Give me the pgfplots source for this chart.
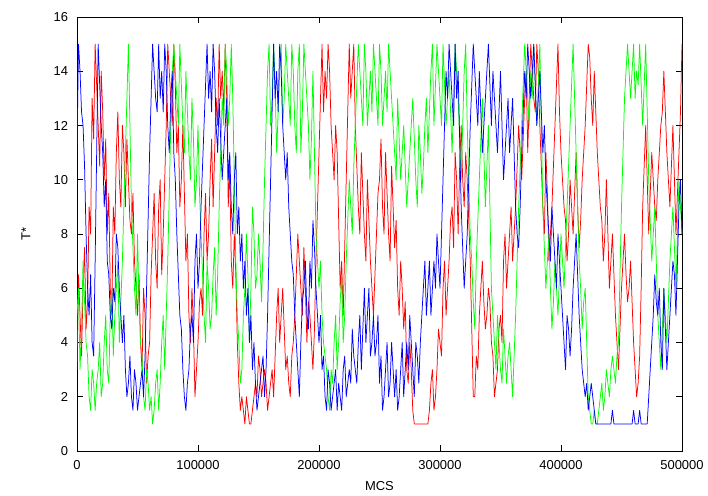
\documentclass[border=0pt]{standalone}
\usepackage{fontspec}
\setmainfont{Liberation Sans}
\usepackage{pgfplots}
\usepackage{pgfplotstable}
\pgfplotsset{compat=1.18}
\pgfplotstableread{
x r g b
0 3 5 11
1250 6.5 6 15
2500 5 3 14
3750 3.5 4.5 12.5
5000 6 7 12
6250 7.5 5.5 10.5
7500 4.5 4 8
8750 5.5 3.5 6
10000 9 2 5
11250 8 1.5 6.5
12500 13 3 4
13750 11.5 2.5 3.5
15000 15 1.5 7
16250 13.5 2.5 11
17500 12 3 15
18750 10.5 4 13.5
20000 14 2 12
21250 12.5 2.5 11
22500 10 4 9
23750 11.5 5 10
25000 8 3 7
26250 9.5 2.5 6.5
27500 6 5 5
28750 5 6 4.5
30000 9 3.5 6
31250 8 5 5.5
32500 11 6 8
33750 12.5 7 7.5
35000 10 4 6
36250 9 5.5 5
37500 12 7 4
38750 11 9 5
40000 9 11 3
41250 11.5 13 2
42500 10 15 2.5
43750 8.5 12 3.5
45000 8 9 2
46250 9.5 7.5 1.5
47500 7 6 3
48750 6 5 2.5
50000 5 8 1.5
51250 6.5 5.5 2
52500 4 4 2.5
53750 3 3.5 3
55000 6 2 2
56250 5 1.5 3.5
57500 2.5 3 6
58750 3.5 2.5 8.5
60000 4 1.5 11
61250 6.5 2 13
62500 8 1 15
63750 9.5 1.5 14
65000 7 2.5 13
66250 6 3 12.5
67500 9 1.5 15
68750 10 2.5 13
70000 6.5 4 14
71250 8 5 12.5
72500 10 3 15
73750 12 5 14
75000 15 7 12
76250 14 9.5 11
77500 13 12 13
78750 12 14 14
80000 15 15 11
81250 13.5 14 10
82500 11 13 8
83750 12 12 6.5
85000 9 15 5
86250 10 13.5 4.5
87500 12 12 3
88750 9.5 11 2
90000 7 14 1.5
91250 8 12.5 2.5
92500 5 11 3
93750 4 10 4.5
95000 6 13 5
96250 4.5 11.5 4
97500 2 9 7
98750 3 10 8
100000 4 12 6
101250 5.5 9.5 7
102500 6 8 9
103750 5 6.5 10.5
105000 8 5 12
106250 9.5 4 13.5
107500 7 7 15
108750 8 6 13
110000 10 4.5 14
111250 11.5 5 12.5
112500 9 6.5 15
113750 11 7.5 14
115000 13 5 12
116250 12 6.5 11
117500 15 9 13
118750 13 11 11.5
120000 14 13 10
121250 12.5 12 11
122500 15 15 12
123750 13 14 13
125000 9 12 10
126250 10.5 13 11
127500 7 15 9
128750 6 13 8
130000 8 10 10
131250 6.5 7 11
132500 4 5 8
133750 2.5 4 9
135000 1.5 2.5 7
136250 2 3 8
137500 1.5 5 6
138750 1 6 7
140000 2 8 5
141250 1.5 6.5 6
142500 1 4 4
143750 1 6 5
145000 1.5 9 3
146250 2 8 4
147500 2.5 6 2.5
148750 2 6.5 1.5
150000 3.5 8 2
151250 3 7 2.5
152500 2 5.5 3
153750 2.5 7.5 3.5
155000 3 10 2
156250 2.5 12 3
157500 1.5 14 5
158750 2 15 7.5
160000 2.5 12 10
161250 3 13 12.5
162500 2 15 15
163750 3.5 13.5 13
165000 5 11 14
166250 6 12.5 12.5
167500 4 14 15
168750 5 15 14
170000 6 12 12
171250 4.5 13 11
172500 3 15 10
173750 3.5 14 11
175000 2.5 13 9
176250 2 12 8
177500 3.5 15 7
178750 4 14 6.5
180000 5 12 5
181250 6.5 11 4
182500 8 14 3
183750 7 15 2
185000 6 11 4
186250 5 12.5 5.5
187500 7.5 15 6
188750 6 14 7
190000 4 13 5
191250 5.5 12 4.5
192500 5 10 7
193750 4 11.5 6
195000 3 14 8.5
196250 4.5 11 7.5
197500 7 8 6
198750 9 7 5
200000 11 6 4
201250 13 7 5
202500 15 5 3
203750 12.5 4 3.5
205000 14 3.5 2
206250 13 3 1.5
207500 15 2 3
208750 14 1.5 2.5
210000 12 3 1.5
211250 11 2.5 2
212500 10 4 2.5
213750 12 5 3
215000 11 3 1.5
216250 8.5 4 2.5
217500 6 5.5 2
218750 7 6.5 1.5
220000 5 4 3
221250 7.5 5 3.5
222500 10 7 2
223750 12.5 8.5 2.5
225000 15 10 3
226250 13 9 2.5
227500 14 8 4.5
228750 15 10.5 3.5
230000 12 12 3
231250 10.5 13.5 2.5
232500 9 15 4
233750 8 14 5
235000 11 13 3
236250 9.5 12 4.5
237500 8 15 6
238750 7 14 4
240000 10 12 5
241250 8.5 13 6
242500 7 14 3.5
243750 6 12.5 4
245000 5 15 5
246250 6.5 14 3.5
247500 8 13 4
248750 9.5 12 5
250000 10 15 2.5
251250 11.5 14 3.5
252500 9 12 1.5
253750 8 13 2
255000 11 14 3
256250 9.5 12.5 4
257500 8 15 2
258750 7 14 2.5
260000 10.5 13 4
261250 9 12 3
262500 7.5 11 2
263750 8.5 10 3
265000 6 13 1.5
266250 5 11.5 2
267500 7 10 3
268750 6 11 4
270000 4.5 12 2
271250 5.5 10.5 3
272500 3 9 4
273750 2.5 10 3
275000 4 11 5
276250 3 12 4
277500 1.5 13 3
278750 1 11.5 2
280000 1 10 4
281250 1 9 3.5
282500 1 12 2.5
283750 1 11 4
285000 1 9.5 5
286250 1 10.5 6
287500 1 12 7
288750 1 13 5
290000 1 11 6
291250 1.5 12.5 7
292500 2.5 14 5
293750 3 15 6
295000 1.5 12 7
296250 2 13.5 6
297500 3 15 8
298750 4.5 14 7
300000 4 13 6
301250 3.5 12 8
302500 6 15 10
303750 7 13.5 12
305000 5 12 14
306250 6 13 13
307500 7 14 15
308750 8.5 12.5 14
310000 9 11 13
311250 7.5 13 12
312500 11 15 15
313750 10 14 13
315000 8 13 14
316250 10.5 11.5 11.5
317500 12 10 9
318750 10 12 7.5
320000 9 14 6
321250 11 15 7
322500 10 12 8
323750 8.5 10 10
325000 7 8 12
326250 4.5 7 13.5
327500 2 5.5 15
328750 2 4.5 14
330000 3.5 7 13
331250 3 8.5 12
332500 5 10 14
333750 6 11.5 12.5
335000 7 13 11
336250 5.5 11 12
337500 4.5 9 13
338750 5 10.5 14
340000 6 12 15
341250 5.5 9 13.5
342500 4 6 12
343750 3.5 5 14
345000 2 4 13
346250 2.5 3 12
347500 3 5 11
348750 4.5 4 12.5
350000 5 3 14
351250 4 2.5 12
352500 7 4.5 10
353750 8 3.5 11
355000 6 2.5 12
356250 7 3.5 13
357500 8 4 11
358750 9 3 12
360000 7 2 13
361250 8 3.5 11
362500 9 5 9
363750 10.5 7 8
365000 12 9 7.5
366250 11 10.5 9
367500 10 12 11
368750 11.5 13.5 12.5
370000 13 15 14
371250 14 14 13
372500 11 13 15
373750 13 12 14
375000 15 14 13
376250 14 13 14
377500 13 15 15
378750 12.5 13.5 13.5
380000 15 12 12
381250 14 13.5 13
382500 12 15 14
383750 10.5 12 12.5
385000 9 9 11
386250 8 7.5 12
387500 11 6 10
388750 9.5 7 9
390000 7 8 8
391250 8 6 7
392500 9 4.5 9
393750 10.5 5.5 8
395000 12 7 7
396250 13.5 6 6
397500 15 5 8
398750 12.5 6.5 7
400000 11 8 6
401250 10 7 5
402500 9 6 4
403750 8.5 7.5 3
405000 7 9 5
406250 8 10.5 4.5
407500 10 12 3.5
408750 9 13.5 4.5
410000 8 15 6
411250 9.5 13 7
412500 11 11 8
413750 9 9 6.5
415000 7.5 7 5
416250 8.5 6 4
417500 10 4.5 3
418750 11 5.5 2.5
420000 12 6 2
421250 13.5 4 2.5
422500 15 2 1.5
423750 14.5 1.5 2
425000 13 1 2.5
426250 12 1 2
427500 14 1.5 1.5
428750 12.5 1 1
430000 11 1 1
431250 10 1.5 1
432500 9 2 1
433750 8.5 2.5 1
435000 7 1.5 1
436250 8 2 1
437500 10 3 1
438750 8 2.5 1
440000 6 2 1
441250 7 3 1
442500 8 3.5 1.5
443750 6.5 3 1
445000 5 2.5 1
446250 4 3.5 1
447500 3 4 1
448750 4.5 6.5 1
450000 6 9 1
451250 7 11 1
452500 8 13 1
453750 6.5 14 1
455000 5.5 15 1
456250 6 14 1
457500 7 13 1
458750 5.5 14 1
460000 4 15 1.5
461250 3 13 1
462500 2 14 1
463750 2.5 13.5 1
465000 3.5 15 1.5
466250 6 13.5 1
467500 9 12 1
468750 10.5 13.5 1
470000 12 15 1
471250 10 12.5 1
472500 8 10 2
473750 9.5 8.5 3
475000 11 7 4
476250 10 8 5
477500 9 9 6.5
478750 8.5 7 5.5
480000 10 5 5
481250 11 4 6
482500 12 3 4
483750 12.5 4.5 3
485000 14 6 6
486250 12.5 5 4.5
487500 11 4 3
488750 10 5.5 4
490000 9 7 5
491250 10.5 8 6
492500 12 9 7
493750 10 7.5 6.5
495000 8 6 5
496250 9.5 8 7
497500 11 10 9
498750 12.5 9 10
500000 15 8 8
}\data
\begin{document}
\begin{tikzpicture}[font=\fontsize{13}{15.6}\selectfont]
\useasboundingbox (-77bp,-45bp) rectangle (631bp,451bp);
\begin{axis}[
  at={(0,0)}, anchor=south west,
  scale only axis, width=605bp, height=434bp,
  xmin=0, xmax=500000, ymin=0, ymax=16,
  xtick={0,100000,200000,300000,400000,500000},
  ytick={0,2,4,6,8,10,12,14,16},
  scaled x ticks=false,
  /pgf/number format/assume math mode=true,
  xticklabel style={/pgf/number format/fixed,/pgf/number format/1000 sep={},yshift=-6bp},
  yticklabel style={xshift=-5.5bp},
  xtick pos=both, ytick pos=both,
  tick align=inside, major tick length=6bp,
  tick style={black,line width=0.6bp},
  axis line style={line width=0.8bp},
  xlabel={MCS}, ylabel={T*},
  xlabel style={at={(axis description cs:0.5,0)},anchor=center,yshift=-35bp},
  ylabel style={at={(axis description cs:-0.0843,0.5)},anchor=center},
  every axis plot/.append style={line width=0.75bp, line join=round, mark=none},
]
\addplot[color={rgb,255:red,255;green,0;blue,0}] table[x=x,y=r] {\data};
\addplot[color={rgb,255:red,0;green,255;blue,0}] table[x=x,y=g] {\data};
\addplot[color={rgb,255:red,0;green,0;blue,255}] table[x=x,y=b] {\data};
\end{axis}
\end{tikzpicture}
\end{document}
